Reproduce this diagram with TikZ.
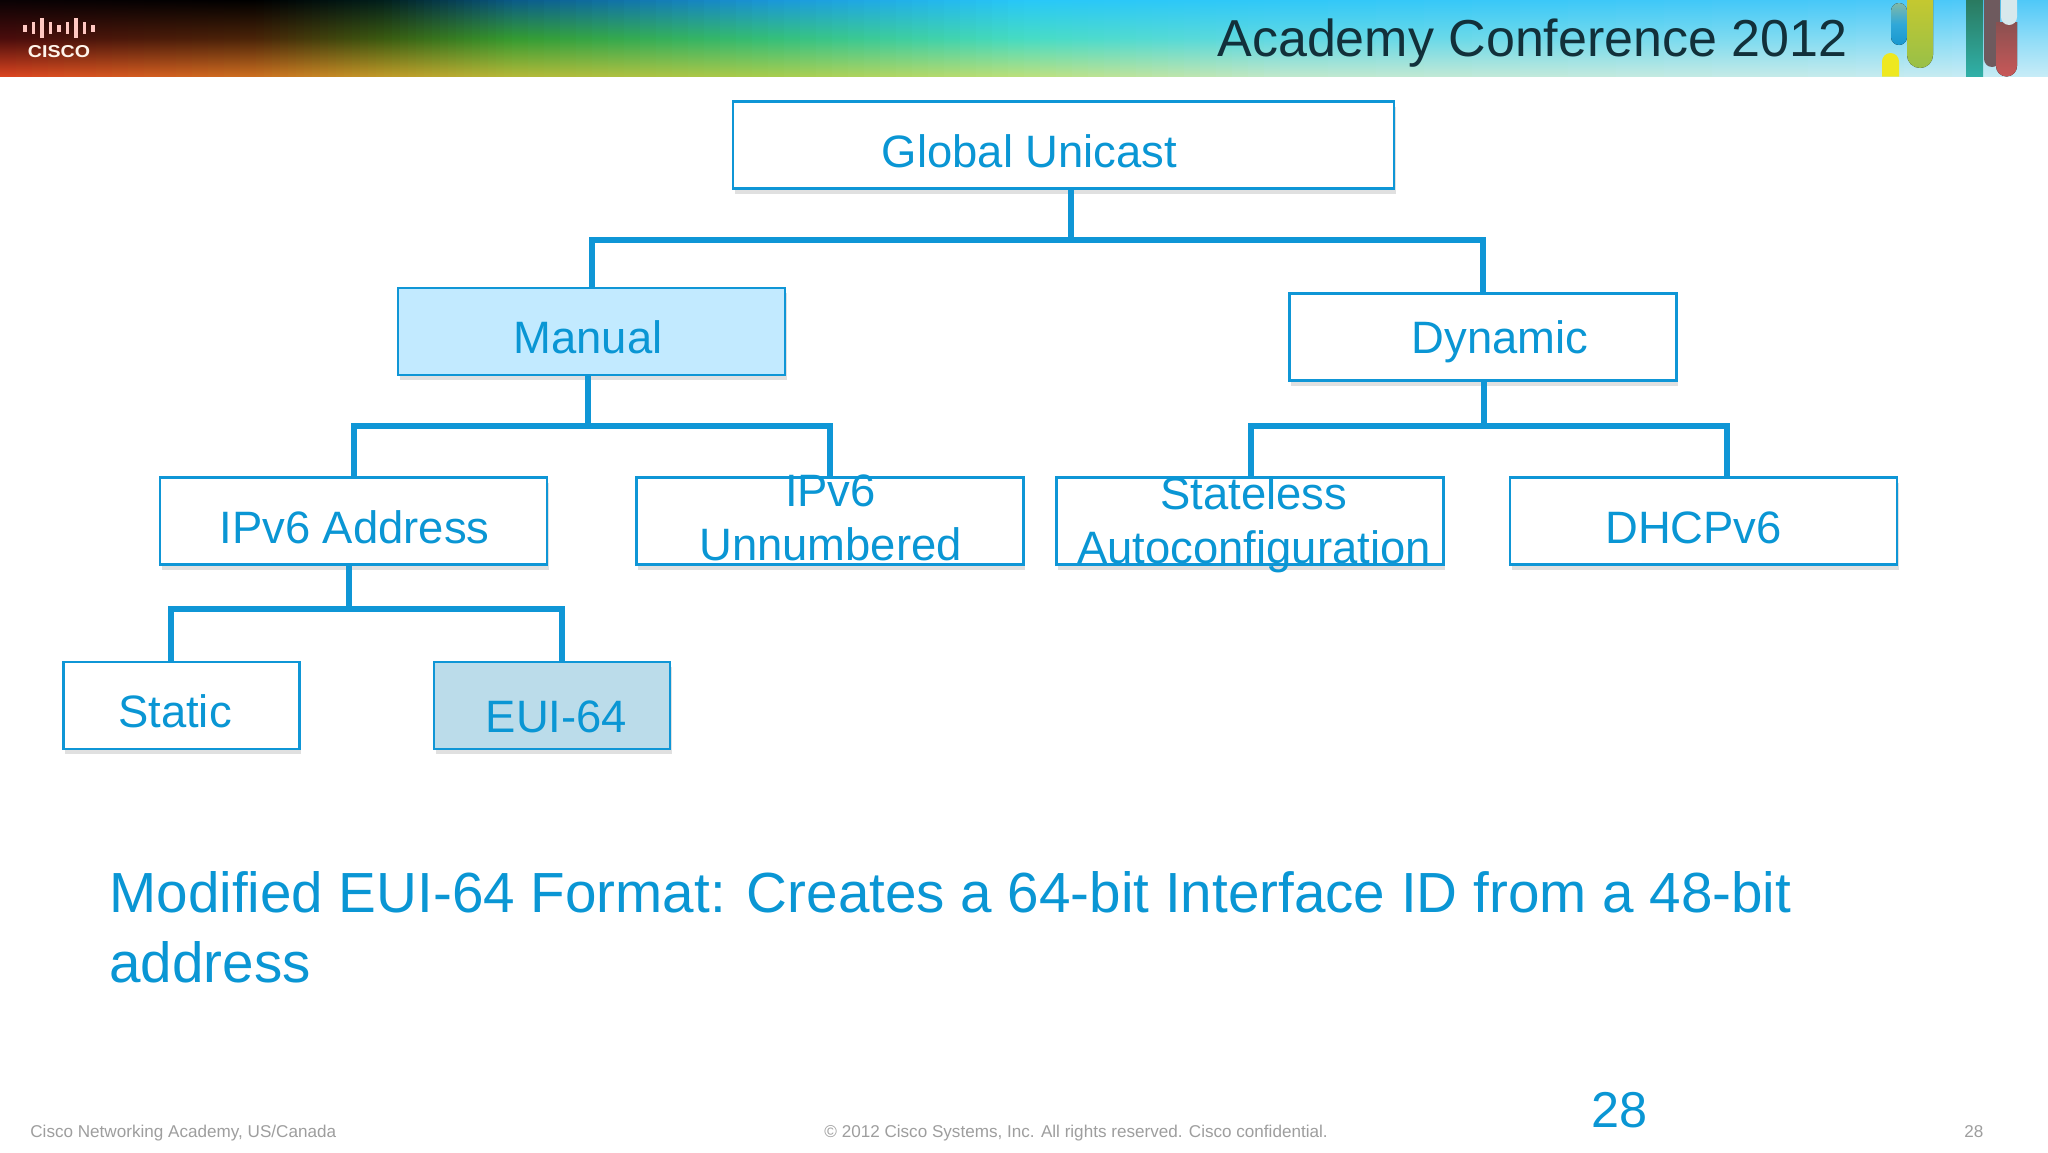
\documentclass[tikz,border=0pt]{standalone}
\usepackage{fontspec}
\setmainfont{Liberation Sans}
\usetikzlibrary{shadows}
\definecolor{cblue}{HTML}{0F96D6}
\definecolor{ctext}{HTML}{0A96D4}
\definecolor{manualfill}{HTML}{C2EAFF}
\definecolor{euifill}{HTML}{BBDCEA}
\definecolor{confcol}{HTML}{12303A}
\definecolor{ribyellow}{HTML}{EEE820}
\definecolor{ribbluetop}{HTML}{80B8A8}
\definecolor{ribbluemid}{HTML}{30A8D8}
\definecolor{ribbluebot}{HTML}{1898D0}
\definecolor{ribgreentop}{HTML}{C4C830}
\definecolor{ribgreenbot}{HTML}{98C048}
\definecolor{ribtealtop}{HTML}{2A7A60}
\definecolor{ribtealbot}{HTML}{30B0A8}
\definecolor{ribmaroon}{HTML}{6E5A5E}
\definecolor{ribredtop}{HTML}{8A5050}
\definecolor{ribredbot}{HTML}{C85858}
\definecolor{ribpale}{HTML}{D8E8EC}
\definecolor{T0}{HTML}{0A0204}\definecolor{M0}{HTML}{4A0C0C}\definecolor{B0}{HTML}{DC4420}
\definecolor{T1}{HTML}{000000}\definecolor{M1}{HTML}{4A2408}\definecolor{B1}{HTML}{CC7020}
\definecolor{T2}{HTML}{02201C}\definecolor{M2}{HTML}{3A5A10}\definecolor{B2}{HTML}{C09A28}
\definecolor{T3}{HTML}{0A5A86}\definecolor{M3}{HTML}{349A30}\definecolor{B3}{HTML}{B4B838}
\definecolor{T4}{HTML}{1A96D8}\definecolor{M4}{HTML}{34BE78}\definecolor{B4}{HTML}{A8CC4C}
\definecolor{T5}{HTML}{28C8F8}\definecolor{M5}{HTML}{46DCC4}\definecolor{B5}{HTML}{BCE07C}
\definecolor{T6}{HTML}{30C8F8}\definecolor{M6}{HTML}{60D8E4}\definecolor{B6}{HTML}{C0E8CC}
\definecolor{T7}{HTML}{50C8F8}\definecolor{M7}{HTML}{90DCF8}\definecolor{B7}{HTML}{C8ECF8}
\tikzset{
  treebox/.style={draw=cblue,line width=1.3pt,minimum width=#1,minimum height=43.5pt,inner sep=0pt,fill=white,
    general shadow={fill=black!12,shadow yshift=-2.5pt,shadow xshift=.8pt}},
  treebox/.default=193.5pt,
  boxtext/.style={anchor=base,text=ctext,font=\fontsize{22.7}{26}\selectfont,inner sep=0pt},
  bus/.style={draw=cblue,line width=2.6pt,line cap=rect},
  foot/.style={anchor=base west,text=black!38,font=\fontsize{8.55}{11}\selectfont,inner sep=0pt},
  bigtext/.style={anchor=base west,text=ctext,font=\fontsize{28.3}{33}\selectfont,inner sep=0pt}
}
\begin{document}
\begin{tikzpicture}[x=0.5pt,y=-0.5pt]
\useasboundingbox (0,0) rectangle (2048,1152);
\fill[white] (0,0) rectangle (2048,1152);
% header band
\foreach \xa/\xb/\a/\b in {0/256/0/1,256/384/1/2,384/512/2/3,512/768/3/4,768/1024/4/5,1024/1280/5/6,1280/2048/6/7}{
  \foreach \k in {0,...,15}{
    \pgfmathsetmacro\p{100-100*(\k+0.5)/16}
    \pgfmathsetmacro\xl{\xa+(\xb-\xa)*\k/16}
    \pgfmathsetmacro\xr{\xa+(\xb-\xa)*(\k+1)/16+1}
    \colorlet{ct}{T\a!\p!T\b}\colorlet{cm}{M\a!\p!M\b}\colorlet{cb}{B\a!\p!B\b}
    \fill[top color=ct,bottom color=cb,middle color=cm] (\xl,0) rectangle (\xr,76.5);
  }
}
% Cisco logo
\foreach \i/\h in {0/3.5,1/6,2/10,3/6,4/3.5,5/6,6/10,7/6,8/3.5}{
  \fill[white!80!red!95!orange] ({23+8.5*\i},{28-\h}) rectangle ({26.5+8.5*\i},{28+\h});
}
\node[anchor=base,text=white!92!orange,font=\fontsize{8.6}{10}\bfseries\selectfont,inner sep=0pt,xscale=1.14] (ciscoword) at (59,57) {CISCO};
\node[anchor=base west,text=confcol,font=\fontsize{26}{30}\selectfont,inner sep=0pt] (conf) at (1217,56) {Academy Conference 2012};
% header ribbons
\fill[ribyellow] (1882,76.5) -- (1882,61.5) arc (180:360:8.5) -- (1899,76.5) -- cycle;
\fill[top color=ribbluetop,bottom color=ribbluebot,middle color=ribbluemid] (1891,11) arc (180:360:8) -- (1907,37) arc (0:180:8) -- cycle;
\fill[top color=ribgreentop,bottom color=ribgreenbot] (1907,0) -- (1933,0) -- (1933,55) arc (0:180:13) -- cycle;
\fill[top color=ribtealtop,bottom color=ribtealbot] (1966,0) rectangle (1983,76.5);
\fill[ribmaroon] (1984,0) -- (2000,0) -- (2000,59) arc (0:180:8) -- cycle;
\fill[top color=ribredtop,bottom color=ribredbot] (1996,22) -- (2017,22) -- (2017,66) arc (0:180:10.5) -- cycle;
\fill[ribpale] (2001,0) -- (2017,0) -- (2017,17) arc (0:180:8) -- cycle;
% boxes
\node[treebox=330.5pt] (glob) at (1063.5,145) {};
\node[treebox,fill=manualfill] (manual) at (591.5,331.5) {};
\node[treebox] (dyn) at (1483,337) {};
\node[treebox] (addr) at (353.5,521) {};
\node[treebox] (unnum) at (830,521) {};
\node[treebox] (stateless) at (1250,521) {};
\node[treebox] (dhcp) at (1703.5,521) {};
\node[treebox=118pt] (static) at (181.5,705.5) {};
\node[treebox=118pt,fill=euifill] (eui) at (552,705.5) {};
% bus junctions
\coordinate (busa) at (1071,240);
\coordinate (busal) at (592,240);
\coordinate (busar) at (1483,240);
\coordinate (busb) at (588,426);
\coordinate (busbl) at (354,426);
\coordinate (busbr) at (830,426);
\coordinate (busc) at (1484,426);
\coordinate (buscl) at (1251,426);
\coordinate (buscr) at (1727,426);
\coordinate (busd) at (349,609);
\coordinate (busdl) at (171,609);
\coordinate (busdr) at (562,609);
\draw[bus] (glob.south -| busa) -- (busa);
\draw[bus] (manual.north -| busal) -- (busal) -- (busar) -- (dyn.north -| busar);
\draw[bus] (manual.south -| busb) -- (busb);
\draw[bus] (addr.north -| busbl) -- (busbl) -- (busbr) -- (unnum.north -| busbr);
\draw[bus] (dyn.south -| busc) -- (busc);
\draw[bus] (stateless.north -| buscl) -- (buscl) -- (buscr) -- (dhcp.north -| buscr);
\draw[bus] (addr.south -| busd) -- (busd);
\draw[bus] (static.north -| busdl) -- (busdl) -- (busdr) -- (eui.north -| busdr);
% box texts
\node[boxtext] (tglob) at (1029.5,167) {Global Unicast};
\node[boxtext] (tmanual) at (588,353.5) {Manual};
\node[boxtext] (tdyn) at (1500,353.5) {Dynamic};
\node[boxtext] (taddr) at (354.5,543.5) {IPv6 Address};
\node[boxtext] (tun1) at (830.5,506.5) {IPv6};
\node[boxtext] (tun2) at (830.5,560.5) {Unnumbered};
\node[boxtext] (tst1) at (1254,509.5) {Stateless};
\node[boxtext] (tst2) at (1254,563) {Autoconfiguration};
\node[boxtext] (tdhcp) at (1693.5,543.5) {DHCPv6};
\node[boxtext] (tstatic) at (175,727.5) {Static};
\node[boxtext] (teui) at (556.5,732.5) {EUI-64};
% big text
\node[bigtext] (big1) at (109,912.5) {Modified EUI-64 Format: Creates a 64-bit Interface ID from a 48-bit};
\node[bigtext] (big2) at (109,982) {address};
% footer
\node[foot] (f1) at (30,1137) {Cisco Networking Academy, US/Canada};
\node[foot] (f2) at (824,1137) {© 2012 Cisco Systems, Inc. All rights reserved. Cisco confidential.};
\node[foot] (f3) at (1964,1137) {28};
\node[anchor=base west,text=ctext,font=\fontsize{25.2}{28}\selectfont,inner sep=0pt] (num) at (1591,1127.5) {28};
\end{tikzpicture}
\end{document}
